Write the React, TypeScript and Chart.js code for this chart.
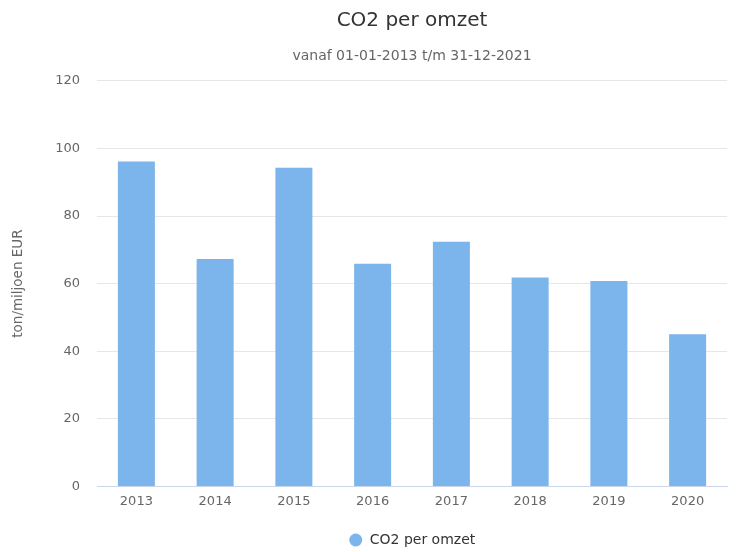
import React, { useEffect, useRef } from "react";
import { Chart, registerables } from "chart.js";

Chart.register(...registerables);

const categories = ["2013", "2014", "2015", "2016", "2017", "2018", "2019", "2020"];
const co2PerOmzet = [96.1, 67.3, 94.3, 65.9, 72.4, 61.8, 60.8, 45.0];
const yTicks = [0, 20, 40, 60, 80, 100, 120];

const FONT = "'DejaVu Sans', sans-serif";

export default function App() {
  const ref = useRef<HTMLCanvasElement | null>(null);
  useEffect(() => {
    document.body.style.margin = "0";
    const chart = new Chart(ref.current!, {
      type: "bar",
      data: {
        labels: categories,
        datasets: [
          {
            label: "CO2 per omzet",
            data: co2PerOmzet,
            backgroundColor: "#7cb5ec",
            borderWidth: 0,
            categoryPercentage: 1,
            barPercentage: 0.47,
          },
        ],
      },
      options: {
        responsive: false,
        animation: false,
        layout: { padding: { left: 10, right: 11, top: 0, bottom: -5 } },
        plugins: {
          title: {
            display: true,
            fullSize: false,
            text: "CO2 per omzet",
            color: "#333333",
            font: { family: FONT, size: 20, weight: "normal" },
            padding: { top: 9, bottom: 14.5 },
          },
          subtitle: {
            display: true,
            fullSize: false,
            text: "vanaf 01-01-2013 t/m 31-12-2021",
            color: "#666666",
            font: { family: FONT, size: 14, weight: "normal" },
            padding: { top: 0, bottom: 16.5 },
          },
          legend: {
            position: "bottom",
            fullSize: false,
            labels: {
              usePointStyle: true,
              pointStyle: "circle",
              boxWidth: 14,
              boxHeight: 9.2,
              color: "#333333",
              font: { family: FONT, size: 14 },
              padding: 9,
            },
          },
          tooltip: { enabled: false },
        },
        scales: {
          x: {
            grid: { display: false, drawTicks: false },
            border: { display: true, color: "#ccd6eb" },
            ticks: { color: "#666666", font: { family: FONT, size: 13 }, padding: 7 },
            afterFit: (axis: any) => {
              axis.height += 8;
            },
          },
          y: {
            min: 0,
            max: 120,
            afterBuildTicks: (axis: any) => {
              axis.ticks = yTicks.map((v) => ({ value: v }));
            },
            grid: { color: "#e6e6e6", drawTicks: false },
            border: { display: false },
            ticks: { color: "#666666", font: { family: FONT, size: 13 }, padding: 17 },
            title: {
              display: true,
              text: "ton/miljoen EUR",
              color: "#666666",
              font: { family: FONT, size: 13.5 },
              padding: { top: 0, bottom: 12 },
            },
          },
        },
      },
    });
    return () => chart.destroy();
  }, []);
  return (
    <div style={{ position: "absolute", left: 0, top: 0, width: 738, height: 552 }}>
      <canvas ref={ref} width={738} height={552} />
    </div>
  );
}
